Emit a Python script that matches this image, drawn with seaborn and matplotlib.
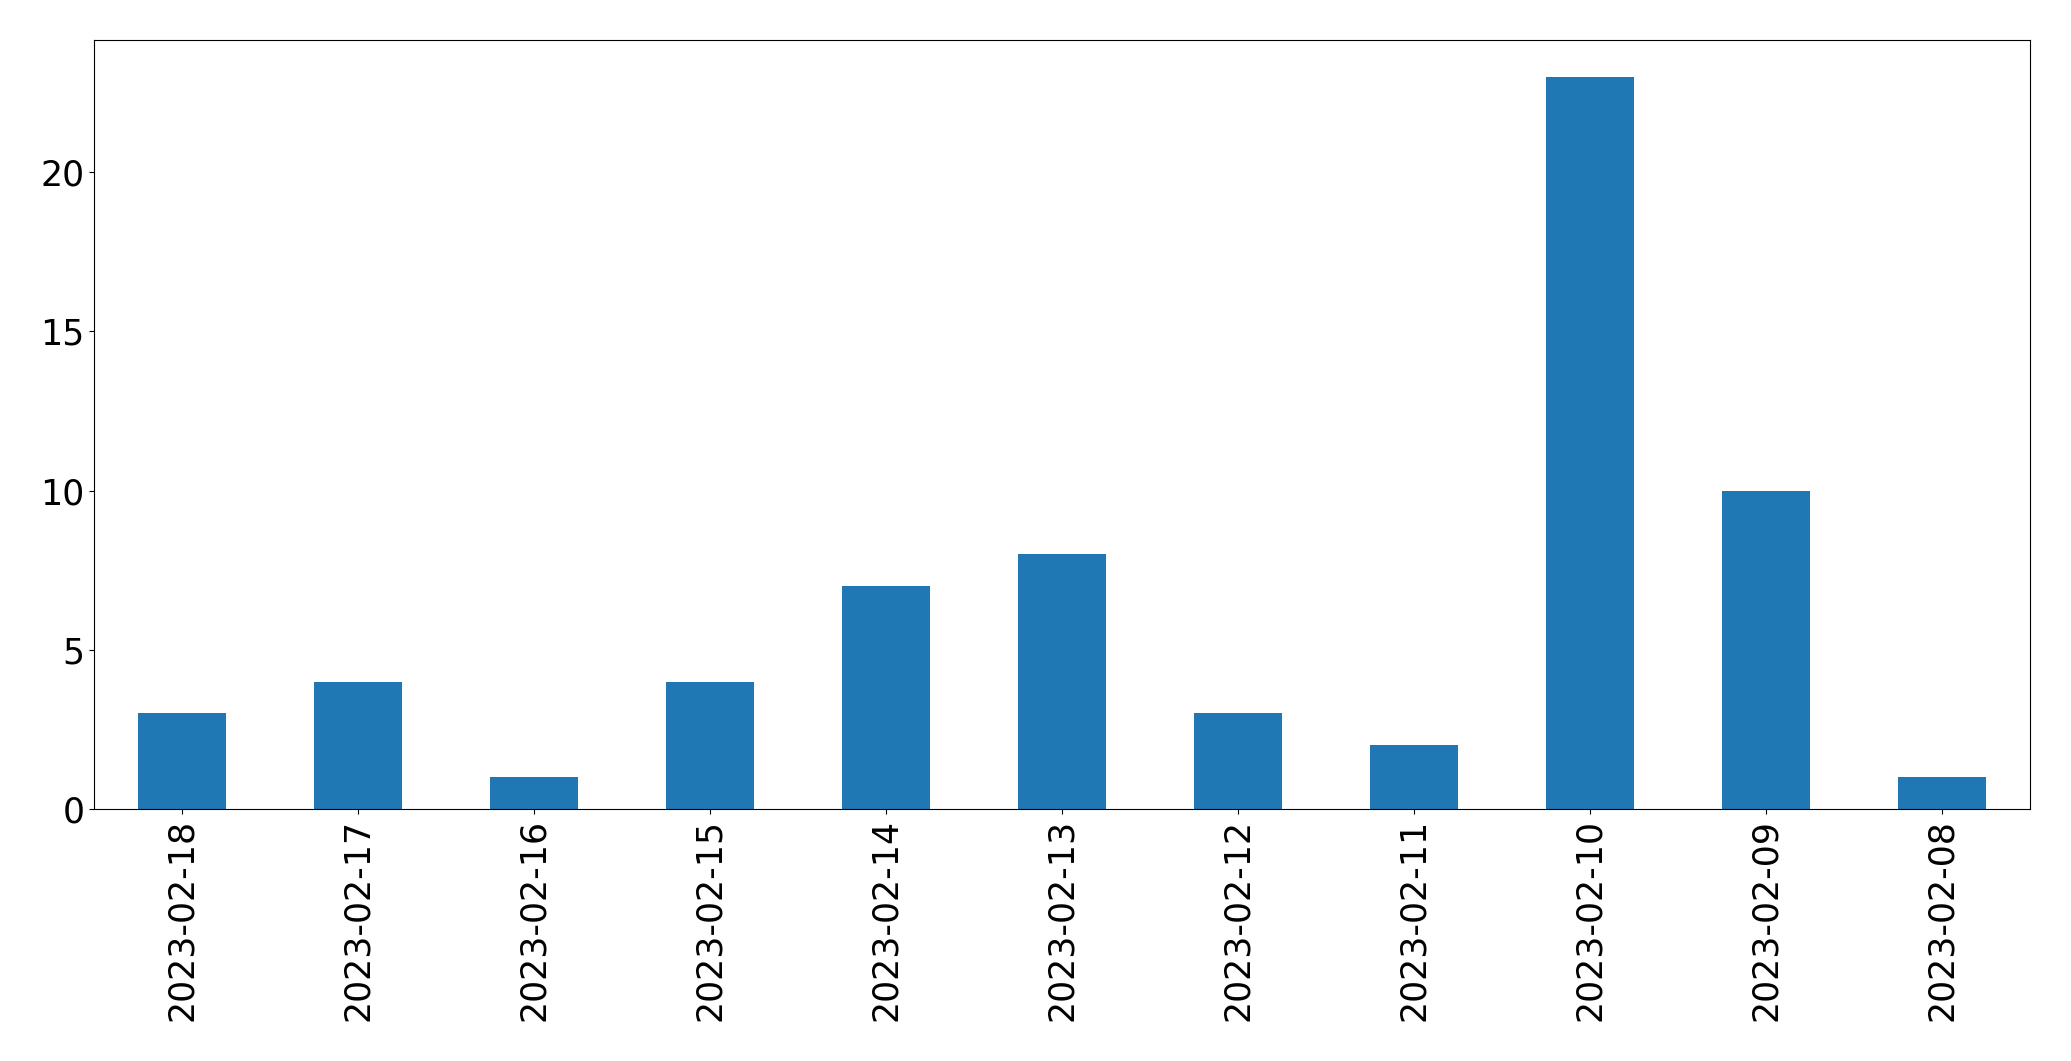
import matplotlib
matplotlib.use("Agg")
import pandas as pd
import seaborn as sns
from matplotlib import pyplot as plt

dates = ["2023-02-18", "2023-02-17", "2023-02-16", "2023-02-15", "2023-02-14",
         "2023-02-13", "2023-02-12", "2023-02-11", "2023-02-10", "2023-02-09",
         "2023-02-08"]
counts = [3, 4, 1, 4, 7, 8, 3, 2, 23, 10, 1]

df = pd.DataFrame({"date": dates, "count": counts})

fig, ax = plt.subplots(figsize=(20.71, 10.61), dpi=100)
fig.subplots_adjust(left=94/2071, right=2030/2071, top=1-40/1061, bottom=1-809/1061)

sns.barplot(data=df, x="date", y="count", color="#1f77b4", saturation=1,
            width=0.5, linewidth=0, ax=ax)
ax.set_xlim(-0.5, len(dates) - 0.5)
ax.set_ylim(0, max(counts) * 1.05)
ax.set_xlabel("")
ax.set_ylabel("")
ax.tick_params(axis="x", labelrotation=90, labelsize=25)
ax.tick_params(axis="y", labelsize=25)

plt.savefig("out.png")
